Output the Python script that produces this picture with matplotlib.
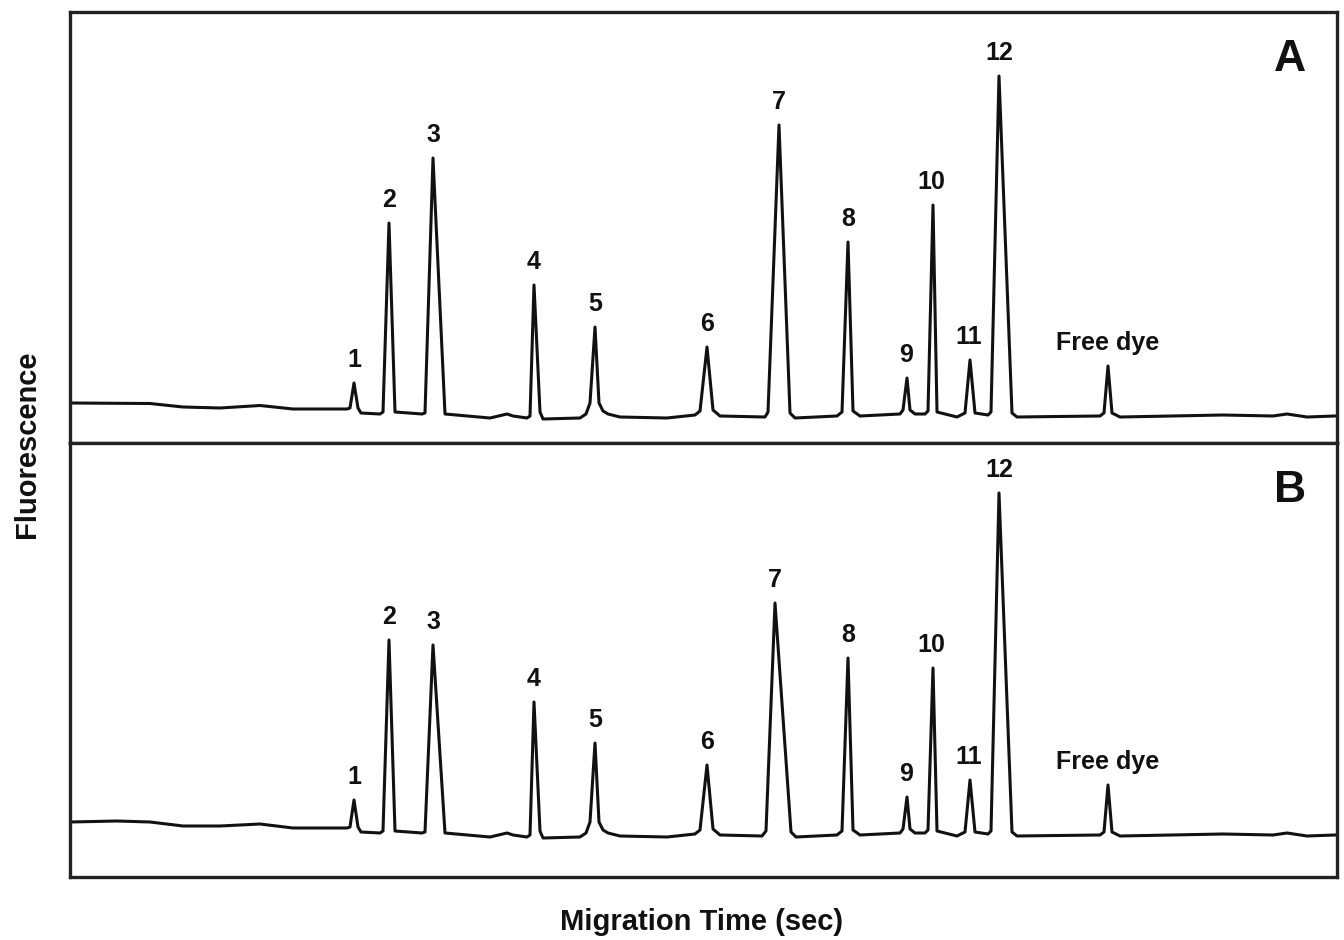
import matplotlib
matplotlib.use("Agg")
import matplotlib.pyplot as plt

plt.rcParams['font.family'] = ['Liberation Sans', 'DejaVu Sans']

# electropherogram A (trace points, arbitrary units)
time_a = [70, 150, 183, 220, 260, 293, 347,
          350, 354, 358, 361, 380,
          383, 389, 395, 422,
          425, 433, 445, 490, 507, 513, 527,
          530, 534, 540, 543, 580,
          586, 590, 595, 599, 603, 608, 620, 667, 695,
          700, 707, 713, 720, 765,
          768, 779, 790, 795, 837,
          842, 848, 853, 860, 900,
          903, 907, 910, 915, 925,
          928, 933, 937, 957,
          965, 970, 975, 988,
          991, 999, 1012, 1017, 1100,
          1104, 1108, 1112, 1120, 1223, 1273, 1287, 1307, 1335]
fluor_a = [40, 39.5, 36, 35, 37.5, 34, 34,
           35, 60, 35, 30, 29,
           31, 220, 31, 29,
           30, 285, 29, 25, 29, 27, 25,
           27, 158, 31, 24, 25,
           29, 40, 116, 40, 32, 29, 26, 25, 28,
           32, 96, 33, 27, 26,
           31, 318, 30, 25, 27,
           31, 201, 32, 27, 29,
           33, 65, 33, 29, 29,
           32, 238, 31, 26,
           30, 83, 30, 28,
           31, 367, 30, 26, 27,
           30, 77, 30, 26, 28, 27, 29, 26, 27]

# electropherogram B
time_b = [70, 117, 150, 183, 220, 260, 293, 347,
          350, 354, 358, 361, 380,
          383, 389, 395, 422,
          425, 433, 445, 490, 507, 513, 527,
          530, 534, 540, 543, 580,
          586, 590, 595, 599, 603, 608, 620, 667, 695,
          700, 707, 713, 720, 762,
          766, 775, 791, 796, 837,
          842, 848, 853, 860, 900,
          903, 907, 910, 915, 925,
          928, 933, 937, 957,
          965, 970, 975, 988,
          991, 999, 1012, 1017, 1100,
          1104, 1108, 1112, 1120, 1223, 1273, 1287, 1307, 1335]
fluor_b = [55, 56, 55, 51, 51, 53, 49, 49,
           50, 77, 50, 45, 44,
           46, 237, 46, 44,
           45, 232, 44, 40, 44, 42, 40,
           42, 175, 46, 39, 40,
           44, 55, 134, 55, 47, 44, 41, 40, 43,
           47, 112, 48, 42, 41,
           46, 274, 45, 40, 42,
           46, 219, 47, 42, 44,
           48, 80, 48, 44, 44,
           47, 209, 46, 41,
           45, 97, 45, 43,
           46, 384, 45, 41, 42,
           45, 92, 45, 41, 43, 42, 44, 41, 42]

peak_labels = ['1', '2', '3', '4', '5', '6', '7', '8', '9', '10', '11', '12', 'Free dye']
peak_time_a = [354, 389, 433, 534, 595, 707, 779, 848, 907, 933, 970, 999, 1108]
peak_height_a = [60, 220, 285, 158, 116, 96, 318, 201, 65, 238, 83, 367, 77]
peak_time_b = [354, 389, 433, 534, 595, 707, 775, 848, 907, 933, 970, 999, 1108]
peak_height_b = [77, 237, 232, 175, 134, 112, 274, 219, 80, 209, 97, 384, 92]

fig = plt.figure(figsize=(13.44, 9.40), dpi=100)
W, H = 1344, 940
left, right = 70 / W, 1337 / W
ax_a = fig.add_axes([left, 1 - 443 / H, right - left, 431 / H])
ax_b = fig.add_axes([left, 1 - 877 / H, right - left, 434 / H], sharex=ax_a)

panels = [(ax_a, time_a, fluor_a, peak_time_a, peak_height_a, 'A', 431),
          (ax_b, time_b, fluor_b, peak_time_b, peak_height_b, 'B', 434)]

for ax, t, f, pt, ph, tag, top in panels:
    ax.plot(t, f, color='#111111', lw=2.2, solid_joinstyle='round')
    ax.set_xlim(70, 1337)
    ax.set_ylim(0, top)
    ax.set_xticks([])
    ax.set_yticks([])
    for s in ax.spines.values():
        s.set_linewidth(2.4)
        s.set_color('#222222')
    for lab, x, y in zip(peak_labels, pt, ph):
        dx = -1 if lab in ('9', '10', '11') else 0
        ax.annotate(lab, (x, y), xytext=(dx, 16.5), textcoords='offset points',
                    ha='center', va='center', fontsize=18, fontweight='bold',
                    color='#111111')
    ax.text(0.963, 0.89, tag, transform=ax.transAxes, ha='center', va='center',
            fontsize=32, fontweight='bold', color='#111111')

fig.text(27 / W, 1 - 444 / H, 'Fluorescence', rotation=90, ha='center', va='center',
         fontsize=21, fontweight='bold', color='#111111')
fig.text(702 / W, 1 - 922 / H, 'Migration Time (sec)', ha='center', va='center',
         fontsize=21, fontweight='bold', color='#111111')

fig.savefig('out.png', dpi=100)
